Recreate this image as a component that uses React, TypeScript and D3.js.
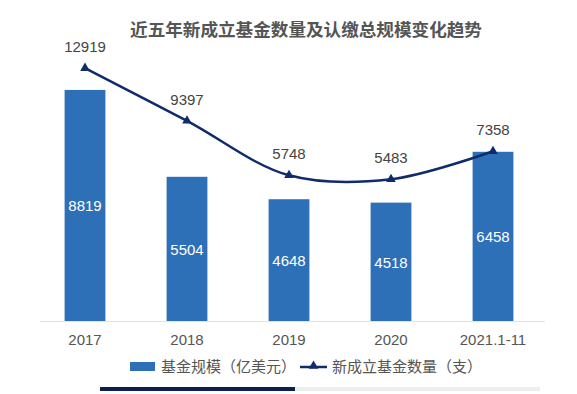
import React, { useEffect, useRef } from 'react';
import * as d3 from 'd3';

const categories = ['2017', '2018', '2019', '2020', '2021.1-11'];
const fundScale = [8819, 5504, 4648, 4518, 6458]; // 基金规模（亿美元）
const fundCount = [12919, 9397, 5748, 5483, 7358]; // 新成立基金数量（支）

const title = '近五年新成立基金数量及认缴总规模变化趋势';
const legendBar = '基金规模（亿美元）';
const legendLine = '新成立基金数量（支）';

const W = 577;
const H = 394;
const BAR = '#2e70b8';
const LINE = '#0f2b6b';
const TXT = '#555';
const FONT = '"Noto Sans CJK SC", "Noto Sans", sans-serif';

const App = () => {
  const ref = useRef<SVGSVGElement>(null);

  useEffect(() => {
    const svg = d3.select(ref.current);
    svg.selectAll('*').remove();

    const x = d3.scaleBand().domain(categories).range([34, 544]).paddingInner(0.6).paddingOuter(0.3);
    const yBar = d3.scaleLinear().domain([0, 10000]).range([321, 59]);
    const yLine = d3.scaleLinear().domain([-4000, 14000]).range([321, 52]);
    const cx = (c: string) => (x(c) as number) + x.bandwidth() / 2;

    svg.append('text')
      .attr('x', 306).attr('y', 36)
      .attr('text-anchor', 'middle')
      .attr('font-family', FONT).attr('font-size', 17.6).attr('font-weight', 'bold')
      .attr('fill', TXT)
      .text(title);

    // axis line
    svg.append('line')
      .attr('x1', 40).attr('x2', 545).attr('y1', 321.5).attr('y2', 321.5)
      .attr('stroke', '#e3e3e3').attr('stroke-width', 1);

    // bars
    svg.append('g').selectAll('rect')
      .data(fundScale)
      .enter().append('rect')
      .attr('x', (d, i) => x(categories[i]) as number)
      .attr('y', d => yBar(d))
      .attr('width', x.bandwidth())
      .attr('height', d => yBar(0) - yBar(d))
      .attr('fill', BAR);

    svg.append('g').selectAll('text')
      .data(fundScale)
      .enter().append('text')
      .attr('x', (d, i) => cx(categories[i]))
      .attr('y', d => (yBar(d) + yBar(0)) / 2 + 6)
      .attr('text-anchor', 'middle')
      .attr('font-family', 'Liberation Sans, Arial, sans-serif').attr('font-size', 15)
      .attr('fill', '#fff')
      .text(d => d);

    // x labels
    svg.append('g').selectAll('text')
      .data(categories)
      .enter().append('text')
      .attr('x', d => cx(d))
      .attr('y', 345)
      .attr('text-anchor', 'middle')
      .attr('font-family', 'Liberation Sans, Arial, sans-serif').attr('font-size', 15)
      .attr('fill', TXT)
      .text(d => d);

    // line
    const pts: [number, number][] = fundCount.map((v, i) => [cx(categories[i]), yLine(v)]);
    const line = d3.line().curve(d3.curveCatmullRom.alpha(0.5));
    svg.append('path')
      .attr('d', line(pts))
      .attr('fill', 'none')
      .attr('stroke', LINE)
      .attr('stroke-width', 2.5);

    const tri = d3.symbol().type(d3.symbolTriangle).size(40);
    svg.append('g').selectAll('path')
      .data(pts)
      .enter().append('path')
      .attr('transform', d => `translate(${d[0]},${d[1]})`)
      .attr('d', tri())
      .attr('fill', LINE);

    svg.append('g').selectAll('text')
      .data(fundCount)
      .enter().append('text')
      .attr('x', (d, i) => cx(categories[i]))
      .attr('y', d => yLine(d) - 16)
      .attr('text-anchor', 'middle')
      .attr('font-family', 'Liberation Sans, Arial, sans-serif').attr('font-size', 15)
      .attr('fill', '#444')
      .text(d => d);

    // legend
    const lg = svg.append('g').attr('font-family', FONT).attr('font-size', 15).attr('fill', TXT);
    lg.append('rect').attr('x', 130).attr('y', 362).attr('width', 25).attr('height', 9).attr('fill', BAR);
    lg.append('text').attr('x', 161).attr('y', 372).text(legendBar);
    lg.append('line').attr('x1', 300).attr('x2', 327).attr('y1', 367).attr('y2', 367)
      .attr('stroke', LINE).attr('stroke-width', 2.5);
    lg.append('path').attr('transform', 'translate(313.5,366)').attr('d', tri()).attr('fill', LINE);
    lg.append('text').attr('x', 332).attr('y', 372).text(legendLine);

    // scroll indicator
    svg.append('rect').attr('x', 295).attr('y', 387).attr('width', 245).attr('height', 4).attr('fill', '#eeeeee');
    svg.append('rect').attr('x', 100).attr('y', 387).attr('width', 195).attr('height', 4).attr('fill', '#0e1f4f');
  }, []);

  return (
    <svg ref={ref} width={W} height={H} style={{ position: 'absolute', left: 0, top: 0, background: '#fff' }} />
  );
};

export default App;
